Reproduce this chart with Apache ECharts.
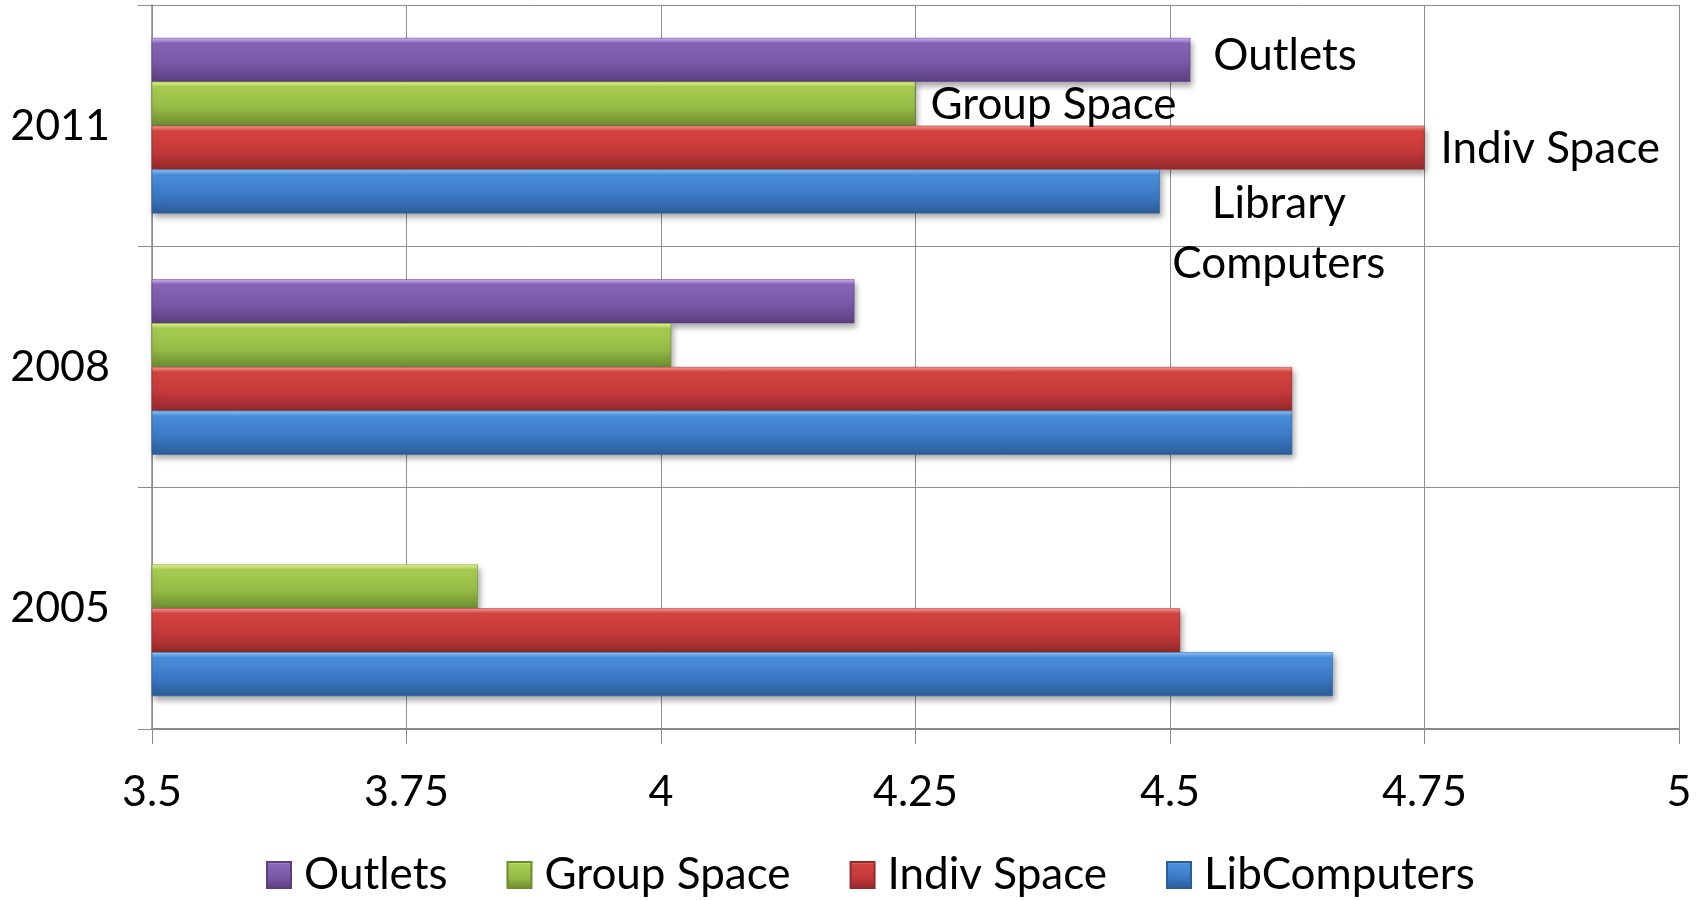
<!DOCTYPE html>
<html>
<head>
<meta charset="utf-8">
<script src="https://cdn.jsdelivr.net/npm/echarts@6/dist/echarts.min.js"></script>
<style>
  html, body { margin: 0; padding: 0; background: #ffffff; }
  #chart { width: 1702px; height: 900px; }
</style>
</head>
<body>
<div id="chart"></div>
<script>
// ---- data ----
const years = ['2005', '2008', '2011'];           // bottom to top
const seriesNames = ['Outlets', 'Group Space', 'Indiv Space', 'LibComputers']; // top to bottom within group
const outlets      = [null, 4.19, 4.52];
const groupSpace   = [3.82, 4.01, 4.25];
const indivSpace   = [4.51, 4.62, 4.75];
const libComputers = [4.66, 4.62, 4.49];
const labels2011   = ['Outlets', 'Group Space', 'Indiv Space', 'Library\nComputers'];
const xTicks = { min: 3.5, max: 5, interval: 0.25 };

// ---- styling ----
const FONT = 'Lato';
const palettes = [
  ['#d5b3f5', '#8866b8', '#7856a6', '#5a3f7e'], // purple
  ['#e8f98a', '#a8cd52', '#95bb45', '#6c8c30'], // green
  ['#ff9a94', '#d5453f', '#c3383a', '#93292a'], // red
  ['#8cc8ff', '#4a8fdb', '#3a78c4', '#2c5d98']  // blue
];
const grad = (p) => new echarts.graphic.LinearGradient(0, 0, 0, 1, [
  { offset: 0, color: p[0] },
  { offset: 0.12, color: p[1] },
  { offset: 0.6, color: p[2] },
  { offset: 1, color: p[3] }
]);
const values = [outlets, groupSpace, indivSpace, libComputers];
const labelStyles = [
  { position: 'right', distance: 23, offset: [0, -4] },
  { position: 'right', distance: 15, offset: [0, 1] },
  { position: 'right', distance: 16, offset: [0, 1] },
  { position: 'right', distance: 0, align: 'center', offset: [119, 42], lineHeight: 60 }
];

const series = seriesNames.map((name, i) => ({
  name: name,
  type: 'bar',
  barGap: '0%',
  barCategoryGap: '27.3%',
  itemStyle: {
    color: grad(palettes[i]),
    borderColor: palettes[i][3],
    borderWidth: 0.5,
    shadowColor: 'rgba(0,0,0,0.35)',
    shadowBlur: 6,
    shadowOffsetX: 2,
    shadowOffsetY: 4
  },
  data: values[i].map((v, j) => {
    if (j === years.indexOf('2011')) {
      return {
        value: v,
        label: Object.assign({
          show: true,
          formatter: labels2011[i],
          color: '#000',
          fontFamily: FONT,
          fontSize: 44
        }, labelStyles[i])
      };
    }
    return v;
  })
}));

const chart = echarts.init(document.getElementById('chart'), null, { renderer: 'canvas' });
chart.setOption({
  animation: false,
  backgroundColor: '#ffffff',
  textStyle: { fontFamily: FONT },
  grid: { left: 152, right: 23, top: 5, bottom: 171, containLabel: false },
  legend: {
    data: seriesNames,
    top: 848,
    left: 261,
    itemWidth: 24,
    itemHeight: 26,
    itemGap: 59,
    icon: 'rect',
    textStyle: { fontFamily: FONT, fontSize: 44, color: '#000', padding: [0, 0, 0, 8] }
  },
  xAxis: {
    type: 'value',
    min: xTicks.min,
    max: xTicks.max,
    interval: xTicks.interval,
    axisLine: { show: true, lineStyle: { color: '#8a8a8a', width: 2 } },
    axisTick: { show: true, length: 15, lineStyle: { color: '#8a8a8a' } },
    splitLine: { show: true, lineStyle: { color: '#8e8e8e', width: 1 } },
    axisLabel: { color: '#000', fontFamily: FONT, fontSize: 43, margin: 42 }
  },
  yAxis: {
    type: 'category',
    data: years,
    boundaryGap: true,
    axisLine: { show: true, lineStyle: { color: '#8a8a8a', width: 1.5 } },
    axisTick: { show: true, length: 14, lineStyle: { color: '#8a8a8a' } },
    splitLine: { show: true, lineStyle: { color: '#8e8e8e', width: 1 } },
    axisLabel: { color: '#000', fontFamily: FONT, fontSize: 43, margin: 42 }
  },
  series: series
});
</script>
</body>
</html>
